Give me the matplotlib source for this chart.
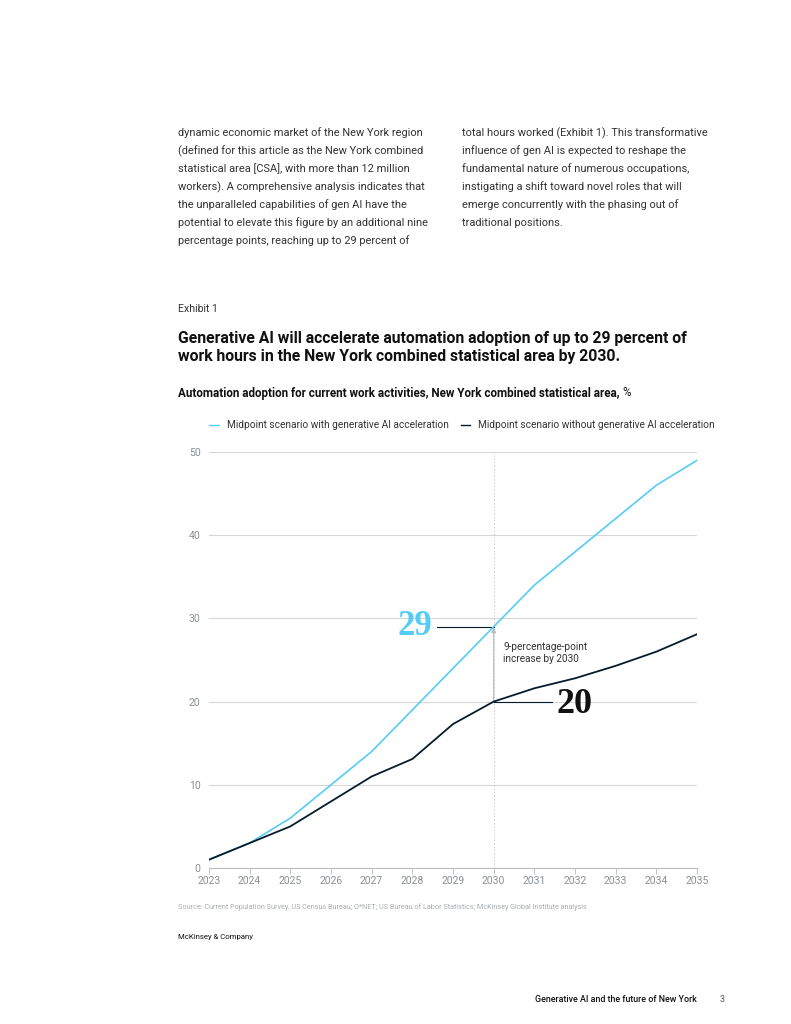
import numpy as np
import matplotlib
matplotlib.use("Agg")
from matplotlib import pyplot as plt

years = list(range(2023, 2036))
with_genai = [1, 3, 6, 10, 14, 19, 24, 29, 34, 38, 42, 46, 49]
without_genai = [1, 3, 5, 8, 11, 13.1, 17.3, 20, 21.6, 22.8, 24.3, 26.0, 28.1]
y_ticks = [0, 10, 20, 30, 40, 50]

legend_labels = ["Midpoint scenario with generative AI acceleration",
                 "Midpoint scenario without generative AI acceleration"]

body_left = [
    "dynamic economic market of the New York region",
    "(defined for this article as the New York combined",
    "statistical area [CSA], with more than 12 million",
    "workers). A comprehensive analysis indicates that",
    "the unparalleled capabilities of gen AI have the",
    "potential to elevate this figure by an additional nine",
    "percentage points, reaching up to 29 percent of",
]
body_right = [
    "total hours worked (Exhibit 1). This transformative",
    "influence of gen AI is expected to reshape the",
    "fundamental nature of numerous occupations,",
    "instigating a shift toward novel roles that will",
    "emerge concurrently with the phasing out of",
    "traditional positions.",
]

BLUE = "#55CCF8"
NAVY = "#051C2C"
GRID = "#D4D7DA"
TXT = "#333333"

plt.rcParams["font.family"] = ["Roboto", "DejaVu Sans"]

W, H = 791, 1024
fig = plt.figure(figsize=(W / 100, H / 100), dpi=100)


# pixel -> figure fraction
def px(x, y):
    return x / W, 1 - y / H


for i, line in enumerate(body_left):
    fig.text(*px(178, 133 + 18 * i), line, fontsize=7.9, color=TXT, va="center")
for i, line in enumerate(body_right):
    fig.text(*px(462, 133 + 18 * i), line, fontsize=7.9, color=TXT, va="center")

fig.text(*px(178, 309), "Exhibit 1", fontsize=7.6, color=TXT, va="center")
fig.text(*px(178, 338), "Generative AI will accelerate automation adoption of up to 29 percent of",
         fontsize=11.3, fontweight="bold", color="#111111", va="center")
fig.text(*px(178, 356), "work hours in the New York combined statistical area by 2030.",
         fontsize=11.3, fontweight="bold", color="#111111", va="center")
sub = fig.text(*px(178, 393), "Automation adoption for current work activities, New York combined statistical area,",
               fontsize=8.4, fontweight="bold", color="#111111", va="center")
fig.canvas.draw()
sub_right = sub.get_window_extent().x1
fig.text(sub_right / W + 3 / W, 1 - 393 / H, "%", fontsize=8.4, color="#111111", va="center")

# legend
fig.add_artist(plt.Line2D([209 / W, 219 / W], [1 - 425 / H] * 2, color=BLUE, lw=1))
fig.text(*px(227, 425), legend_labels[0], fontsize=7.25, color=TXT, va="center")
fig.add_artist(plt.Line2D([461 / W, 470 / W], [1 - 425 / H] * 2, color=NAVY, lw=1))
fig.text(*px(478, 425), legend_labels[1], fontsize=7.25, color=TXT, va="center")

ax = fig.add_axes([209 / W, 1 - 868 / H, (697 - 209) / W, (868 - 452) / H])
ax.set_xlim(2023, 2035)
ax.set_ylim(0, 50)

for t in y_ticks[1:]:
    ax.axhline(t, color=GRID, lw=0.8, zorder=0)
ax.plot([2030, 2030], [0, 50], color="#C8CBCE", lw=0.7, ls=(0, (1.5, 2)), zorder=0)

ax.plot(years, with_genai, color=BLUE, lw=1.2, zorder=3)
ax.plot(years, without_genai, color=NAVY, lw=1.3, zorder=3)

# arrow 20 -> 29
ax.annotate("", xy=(2030, with_genai[7] - 0.1), xytext=(2030, without_genai[7]),
            arrowprops=dict(arrowstyle="-|>", color="#B5BABE", lw=0.8,
                            mutation_scale=7, shrinkA=0, shrinkB=0), zorder=2)
ax.text(2030.23, 25.8, "9-percentage-point\nincrease by 2030", fontsize=7.2,
        color=TXT, va="center", ha="left", linespacing=1.25)

# callouts
ax.plot([2028.6, 2030], [with_genai[7], with_genai[7]], color=NAVY, lw=0.8)
ax.text(2028.48, with_genai[7], "29", fontsize=25, color=BLUE, ha="right", va="center",
        family="Liberation Serif", fontweight="bold")
ax.plot([2030, 2031.43], [without_genai[7], without_genai[7]], color=NAVY, lw=0.8)
ax.text(2031.55, without_genai[7] - 0.3, "20", fontsize=26, color="#111111", ha="left", va="center",
        family="Liberation Serif", fontweight="bold")

for s in ["top", "right", "left"]:
    ax.spines[s].set_visible(False)
ax.spines["bottom"].set_color("#B8BCC0")
ax.spines["bottom"].set_linewidth(0.8)

ax.set_yticks(y_ticks)
ax.set_xticks(years)
ax.tick_params(axis="y", length=0, pad=6, labelsize=7.5, labelcolor="#8A8F94")
ax.tick_params(axis="x", length=4, width=0.6, color="#B8BCC0", pad=2,
               labelsize=7.5, labelcolor="#8A8F94")

fig.text(*px(178, 907),
         "Source: Current Population Survey, US Census Bureau; O*NET; US Bureau of Labor Statistics; McKinsey Global Institute analysis",
         fontsize=5.2, color="#A8ACB0", va="center")
fig.text(*px(178, 937), "McKinsey & Company", fontsize=5.6, color="#111111", va="center")
fig.text(*px(697, 1000), "Generative AI and the future of New York", fontsize=6.4,
         color="#111111", va="center", ha="right", fontweight="medium")
fig.text(*px(722, 1000), "3", fontsize=6.4, color="#555555", va="center", ha="center")

fig.savefig("out.png", dpi=100)
